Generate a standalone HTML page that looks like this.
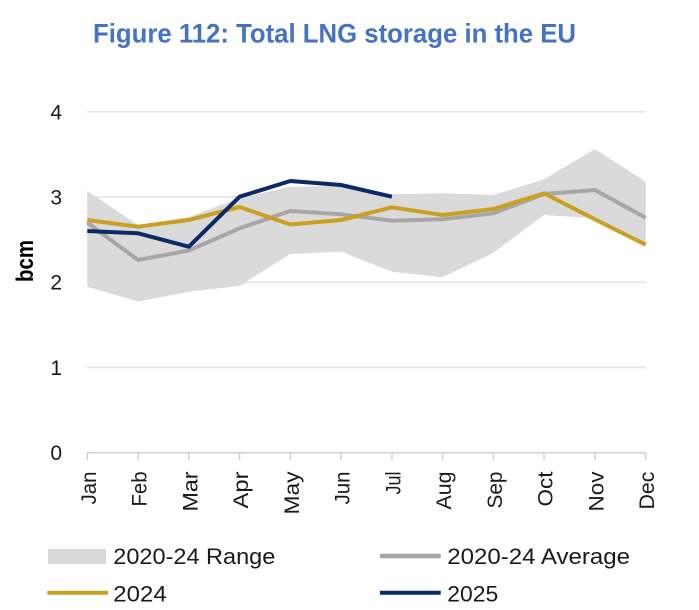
<!DOCTYPE html>
<html>
<head>
<meta charset="utf-8">
<style>
  html, body { margin: 0; padding: 0; background: #ffffff; }
  body { width: 699px; height: 610px; overflow: hidden; }
  svg { display: block; }
  text { font-family: "Liberation Sans", "DejaVu Sans", sans-serif; }
</style>
</head>
<body>
<svg width="699" height="610" viewBox="0 0 699 610" xmlns="http://www.w3.org/2000/svg">
  <rect x="0" y="0" width="699" height="610" fill="#ffffff"/>

  <!-- Title -->
  <text x="93" y="42.5" font-size="26.5" font-weight="bold" fill="#4472C4" textLength="483" lengthAdjust="spacingAndGlyphs">Figure 112: Total LNG storage in the EU</text>

  <!-- Gridlines -->
  <g stroke="#E4E4E4" stroke-width="1.5">
    <line x1="87" y1="111.7" x2="646" y2="111.7"/>
    <line x1="87" y1="197" x2="646" y2="197"/>
    <line x1="87" y1="282.3" x2="646" y2="282.3"/>
    <line x1="87" y1="367.5" x2="646" y2="367.5"/>
  </g>

  <!-- Range area -->
  <polygon fill="#DADADA" points="
    87.3,191 138.1,225 188.8,217 239.6,198 290.3,186.7 341.1,186 391.9,194.3 442.6,193.3 493.4,195 544.1,179.3 594.9,149 645.7,181.7
    645.7,244.7 594.9,218.3 544.1,215 493.4,252.7 442.6,277.3 391.9,271.7 341.1,251.7 290.3,254 239.6,286 188.8,291.7 138.1,301.5 87.3,286.7"/>

  <!-- Average -->
  <polyline fill="none" stroke="#A6A6A6" stroke-width="4" stroke-linejoin="round" points="
    87.3,222.7 138.1,260 188.8,250.5 239.6,228.3 290.3,211 341.1,214.3 391.9,220.7 442.6,219.3 493.4,213.3 544.1,194 594.9,190 645.7,217.7"/>

  <!-- 2024 -->
  <polyline fill="none" stroke="#C9A020" stroke-width="4" stroke-linejoin="round" points="
    87.3,220 138.1,226.7 188.8,220 239.6,207 290.3,224.5 341.1,220 391.9,207.3 442.6,215 493.4,209 544.1,193.3 594.9,219.3 645.7,244.7"/>

  <!-- 2025 -->
  <polyline fill="none" stroke="#0B2A66" stroke-width="4" stroke-linejoin="round" points="
    87.3,231 138.1,233.3 188.8,246.7 239.6,196.7 290.3,181 341.1,185 391.9,196.7"/>

  <!-- X axis -->
  <g stroke="#D0D0D0" stroke-width="1.5">
    <line x1="87.3" y1="452.7" x2="645.7" y2="452.7"/>
    <line x1="87.3" y1="452.7" x2="87.3" y2="460"/>
    <line x1="138.1" y1="452.7" x2="138.1" y2="460"/>
    <line x1="188.8" y1="452.7" x2="188.8" y2="460"/>
    <line x1="239.6" y1="452.7" x2="239.6" y2="460"/>
    <line x1="290.3" y1="452.7" x2="290.3" y2="460"/>
    <line x1="341.1" y1="452.7" x2="341.1" y2="460"/>
    <line x1="391.9" y1="452.7" x2="391.9" y2="460"/>
    <line x1="442.6" y1="452.7" x2="442.6" y2="460"/>
    <line x1="493.4" y1="452.7" x2="493.4" y2="460"/>
    <line x1="544.1" y1="452.7" x2="544.1" y2="460"/>
    <line x1="594.9" y1="452.7" x2="594.9" y2="460"/>
    <line x1="645.7" y1="452.7" x2="645.7" y2="460"/>
  </g>

  <!-- Y tick labels -->
  <g font-size="21" fill="#1a1a1a" text-anchor="end">
    <text x="62" y="119.3">4</text>
    <text x="62" y="204.5">3</text>
    <text x="62" y="289.5">2</text>
    <text x="62" y="374.8">1</text>
    <text x="62" y="460">0</text>
  </g>

  <!-- Y axis title -->
  <text transform="translate(33,261) rotate(-90)" text-anchor="middle" font-size="24" font-weight="bold" fill="#000000" textLength="42" lengthAdjust="spacingAndGlyphs">bcm</text>

  <!-- X tick labels -->
  <g font-size="21" fill="#1a1a1a" text-anchor="end">
    <text transform="translate(95.8,471.5) rotate(-90)" textLength="33" lengthAdjust="spacingAndGlyphs">Jan</text>
    <text transform="translate(146.6,471.5) rotate(-90)" textLength="35" lengthAdjust="spacingAndGlyphs">Feb</text>
    <text transform="translate(197.3,471.5) rotate(-90)" textLength="40" lengthAdjust="spacingAndGlyphs">Mar</text>
    <text transform="translate(248.1,471.5) rotate(-90)" textLength="37" lengthAdjust="spacingAndGlyphs">Apr</text>
    <text transform="translate(298.8,471.5) rotate(-90)" textLength="43" lengthAdjust="spacingAndGlyphs">May</text>
    <text transform="translate(349.6,471.5) rotate(-90)" textLength="33" lengthAdjust="spacingAndGlyphs">Jun</text>
    <text transform="translate(400.4,471.5) rotate(-90)" textLength="23" lengthAdjust="spacingAndGlyphs">Jul</text>
    <text transform="translate(451.1,471.5) rotate(-90)" textLength="38" lengthAdjust="spacingAndGlyphs">Aug</text>
    <text transform="translate(501.9,471.5) rotate(-90)" textLength="37" lengthAdjust="spacingAndGlyphs">Sep</text>
    <text transform="translate(552.6,471.5) rotate(-90)" textLength="35" lengthAdjust="spacingAndGlyphs">Oct</text>
    <text transform="translate(603.4,471.5) rotate(-90)" textLength="40" lengthAdjust="spacingAndGlyphs">Nov</text>
    <text transform="translate(654.2,471.5) rotate(-90)" textLength="38" lengthAdjust="spacingAndGlyphs">Dec</text>
  </g>

  <!-- Legend -->
  <rect x="48" y="549" width="58" height="15" fill="#DADADA"/>
  <line x1="380" y1="556" x2="440.7" y2="556" stroke="#A6A6A6" stroke-width="4.5"/>
  <line x1="47.3" y1="592.7" x2="108" y2="592.7" stroke="#C9A020" stroke-width="4"/>
  <line x1="380" y1="592.7" x2="440.7" y2="592.7" stroke="#0B2A66" stroke-width="4"/>

  <g font-size="22" fill="#1a1a1a">
    <text x="113.3" y="564" textLength="162" lengthAdjust="spacingAndGlyphs">2020-24 Range</text>
    <text x="447.3" y="564" textLength="182.7" lengthAdjust="spacingAndGlyphs">2020-24 Average</text>
    <text x="113.3" y="601.7" textLength="53.4" lengthAdjust="spacingAndGlyphs">2024</text>
    <text x="447.3" y="601.7" textLength="51" lengthAdjust="spacingAndGlyphs">2025</text>
  </g>
</svg>
</body>
</html>
